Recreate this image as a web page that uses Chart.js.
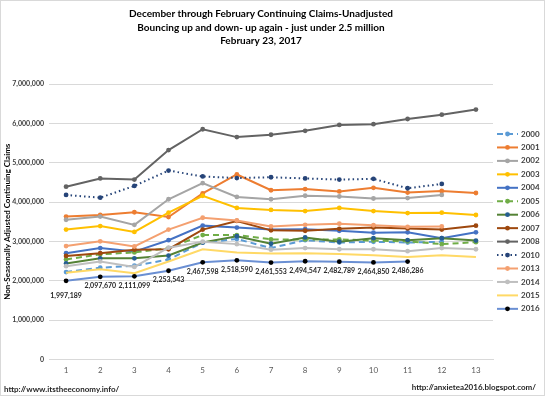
<!DOCTYPE html>
<html>
<head>
<meta charset="utf-8">
<script src="https://cdn.jsdelivr.net/npm/chart.js@4/dist/chart.umd.min.js"></script>
<style>
  html, body { margin: 0; padding: 0; background: #fff; }
  #wrap { position: relative; width: 543px; height: 394px; border: 1px solid #d9d9d9; }
</style>
</head>
<body>
<div id="wrap"><canvas id="myChart" width="543" height="394"></canvas></div>
<script>
// weeks since start of December
var weeks = ["1", "2", "3", "4", "5", "6", "7", "8", "9", "10", "11", "12", "13"];

// continuing claims, non seasonally adjusted
var y2000 = [2220000, 2330000, 2380000, 2540000, 2970000, 3060000, 2830000, 3030000, 2970000, 2990000, 2970000, 2990000];
var y2001 = [3630000, 3670000, 3740000, 3620000, 4220000, 4700000, 4300000, 4330000, 4270000, 4360000, 4240000, 4280000, 4230000];
var y2002 = [3550000, 3630000, 3420000, 4070000, 4480000, 4130000, 4070000, 4160000, 4140000, 4090000, 4100000, 4180000];
var y2003 = [3300000, 3390000, 3240000, 3730000, 4160000, 3850000, 3800000, 3770000, 3850000, 3770000, 3720000, 3730000, 3670000];
var y2004 = [2700000, 2830000, 2740000, 3030000, 3400000, 3350000, 3300000, 3310000, 3270000, 3220000, 3230000, 3080000, 3230000];
var y2005 = [2540000, 2670000, 2720000, 2830000, 3160000, 3160000, 3050000, 3050000, 3050000, 3020000, 3000000, 2930000, 2980000];
var y2006 = [2440000, 2570000, 2570000, 2640000, 2970000, 3130000, 2940000, 3100000, 2990000, 3080000, 3030000, 3080000, 3020000];
var y2007 = [2630000, 2700000, 2790000, 2800000, 3300000, 3520000, 3280000, 3270000, 3320000, 3350000, 3330000, 3300000, 3400000];
var y2008 = [4390000, 4600000, 4570000, 5320000, 5850000, 5650000, 5710000, 5810000, 5960000, 5980000, 6110000, 6220000, 6350000];
var y2010 = [4180000, 4110000, 4410000, 4800000, 4650000, 4610000, 4630000, 4600000, 4570000, 4590000, 4350000, 4460000];
var y2013 = [2880000, 3000000, 2870000, 3300000, 3600000, 3530000, 3380000, 3420000, 3450000, 3410000, 3370000, 3380000];
var y2014 = [2370000, 2490000, 2350000, 2840000, 2990000, 2930000, 2790000, 2830000, 2800000, 2800000, 2750000, 2830000, 2800000];
var y2015 = [2200000, 2290000, 2190000, 2490000, 2800000, 2720000, 2690000, 2700000, 2680000, 2650000, 2600000, 2650000, 2600000];
var y2016 = [1997189, 2097670, 2111099, 2253543, 2467598, 2518590, 2461553, 2494547, 2482789, 2464850, 2486286];

var yTicks = [0, 1000000, 2000000, 3000000, 4000000, 5000000, 6000000, 7000000];

var titleLines = [
  "December through February Continuing Claims-Unadjusted",
  "Bouncing up and down- up again - just under 2.5 million",
  "February 23, 2017"
];

var FONT = "Lato, 'Liberation Sans', sans-serif";

function serie(label, data, color, opts) {
  opts = opts || {};
  return {
    label: label,
    data: data,
    borderColor: color,
    backgroundColor: opts.marker || color,
    pointBackgroundColor: opts.marker || color,
    pointBorderColor: opts.marker || color,
    pointBorderWidth: 0,
    borderWidth: 2,
    borderDash: opts.dash || [],
    pointRadius: opts.noMarker ? 0 : 2.4,
    tension: 0,
    fill: false
  };
}

var datasets = [
  serie("2000", y2000, "#5B9BD5", { dash: [6, 4] }),
  serie("2001", y2001, "#ED7D31"),
  serie("2002", y2002, "#A5A5A5"),
  serie("2003", y2003, "#FFC000"),
  serie("2004", y2004, "#4472C4"),
  serie("2005", y2005, "#70AD47", { dash: [6, 4] }),
  serie("2006", y2006, "#548235", { marker: "#255E91" }),
  serie("2007", y2007, "#9E480E"),
  serie("2008", y2008, "#636363"),
  serie("2010", y2010, "#264478", { dash: [1.5, 3] }),
  serie("2013", y2013, "#F4A070"),
  serie("2014", y2014, "#BFBFBF"),
  serie("2015", y2015, "#FFD966", { noMarker: true }),
  serie("2016", y2016, "#6A8FD3", { marker: "#000000" })
];
// excel draws the last series on top
datasets.forEach(function (d, i) { d.order = -i; });

// legend on the right side, drawn by hand (line + marker)
var sideLegend = {
  id: "sideLegend",
  afterDraw: function (chart) {
    var ctx = chart.ctx;
    var x0 = 496, x1 = 517, y0 = 133, step = 13.45;
    chart.data.datasets.forEach(function (ds, i) {
      var y = y0 + i * step;
      ctx.save();
      ctx.strokeStyle = ds.borderColor;
      ctx.lineWidth = 2;
      ctx.setLineDash(ds.borderDash);
      ctx.beginPath();
      ctx.moveTo(x0, y);
      ctx.lineTo(x1, y);
      ctx.stroke();
      ctx.setLineDash([]);
      if (ds.pointRadius > 0) {
        ctx.fillStyle = ds.pointBackgroundColor;
        ctx.beginPath();
        ctx.arc((x0 + x1) / 2, y, 2.4, 0, Math.PI * 2);
        ctx.fill();
      }
      ctx.fillStyle = "#404040";
      ctx.font = "bold 8px " + FONT;
      ctx.textBaseline = "middle";
      ctx.fillText(ds.label, x1 + 3, y);
      ctx.restore();
    });
  }
};

// title, value labels under the 2016 points, the two web addresses
var extras = {
  id: "extras",
  afterDatasetsDraw: function (chart) {
    var ctx = chart.ctx;
    var idx = chart.data.datasets.length - 1;
    var meta = chart.getDatasetMeta(idx);
    ctx.save();
    ctx.fillStyle = "#262626";
    ctx.font = "bold 7px " + FONT;
    ctx.textAlign = "center";
    ctx.textBaseline = "middle";
    meta.data.forEach(function (pt, i) {
      var v = chart.data.datasets[idx].data[i];
      var off = i == 0 ? 15 : 9;
      ctx.fillText(v.toLocaleString("en-US"), pt.x, pt.y + off);
    });
    ctx.restore();
  },
  afterDraw: function (chart) {
    var ctx = chart.ctx;
    ctx.save();
    ctx.fillStyle = "#000";
    ctx.font = "bold 10px " + FONT;
    ctx.textAlign = "center";
    ctx.textBaseline = "middle";
    for (var i = 0; i < titleLines.length; i++) {
      ctx.fillText(titleLines[i], 260, 13 + i * 13.5);
    }
    ctx.fillStyle = "#262626";
    ctx.font = "bold 8px " + FONT;
    ctx.textAlign = "left";
    ctx.fillText("http://www.itstheeconomy.info/", 3, 388);
    ctx.textAlign = "right";
    ctx.fillText("http://anxietea2016.blogspot.com/", 535, 386);
    ctx.restore();
  }
};

var ctx = document.getElementById("myChart").getContext("2d");
var chart = new Chart(ctx, {
  type: "line",
  data: {
    labels: weeks,
    datasets: datasets
  },
  options: {
    responsive: false,
    animation: false,
    layout: { padding: { left: 2, right: 51, top: 83, bottom: 14 } },
    plugins: {
      legend: { display: false },
      tooltip: { enabled: false },
      title: { display: false }
    },
    scales: {
      x: {
        offset: true,
        grid: { display: false, drawTicks: false },
        border: { color: "#d9d9d9" },
        ticks: { color: "#595959", font: { family: FONT, size: 8 }, padding: 6 }
      },
      y: {
        min: 0,
        max: 7000000,
        afterBuildTicks: function (axis) {
          axis.ticks = yTicks.map(function (v) { return { value: v }; });
        },
        afterFit: function (axis) { axis.width = 46; },
        grid: { color: "#d9d9d9", drawTicks: false },
        border: { display: false },
        ticks: {
          color: "#404040",
          font: { family: FONT, size: 7, weight: "bold" },
          padding: 5,
          callback: function (v) { return v.toLocaleString("en-US"); }
        },
        title: {
          display: true,
          text: "Non-Seasonally Adjusted Continuing Claims",
          color: "#000",
          font: { family: FONT, size: 8, weight: "bold" },
          padding: { top: 0, bottom: 2 }
        }
      }
    }
  },
  plugins: [sideLegend, extras]
});
</script>
</body>
</html>
